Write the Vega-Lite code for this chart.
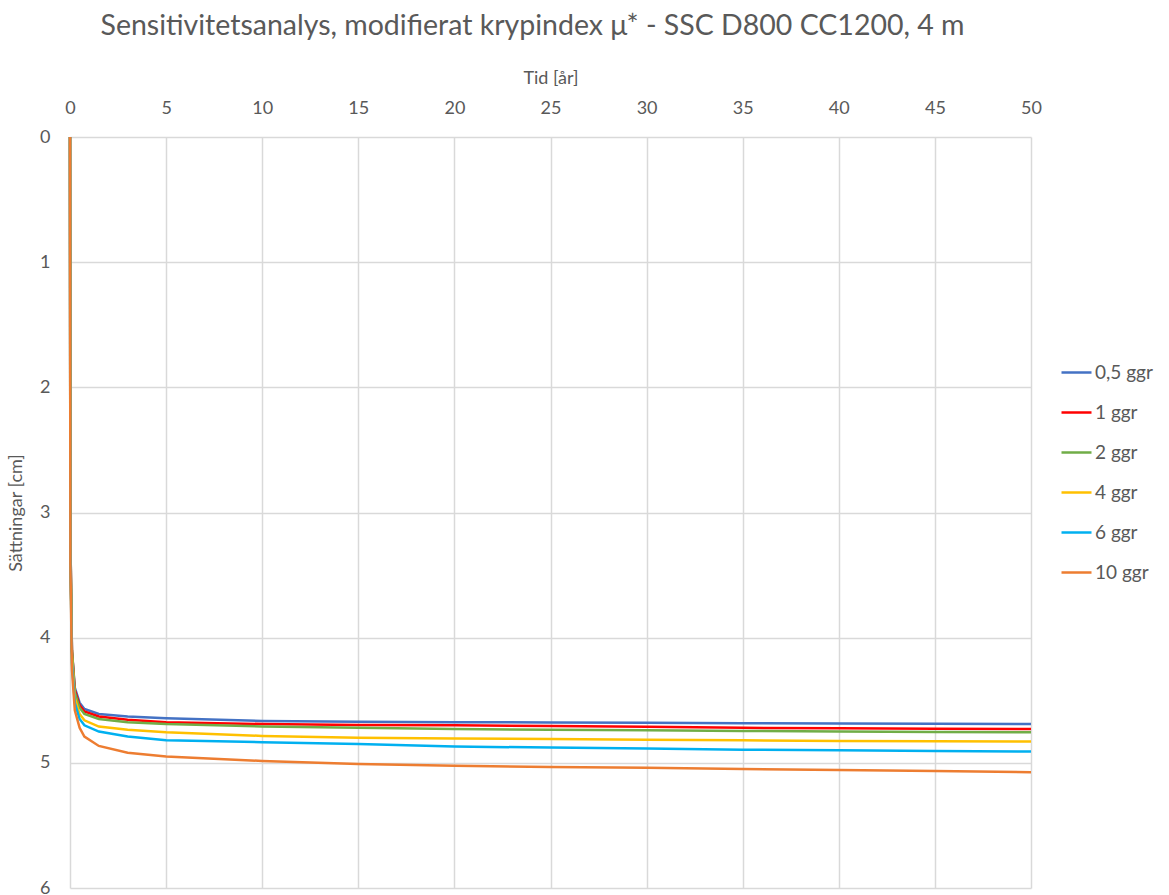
{
  "$schema": "https://vega.github.io/schema/vega-lite/v6.json",
  "autosize": {"type": "none"},
  "width": 961,
  "height": 751,
  "padding": {"left": 70, "top": 137, "right": 138, "bottom": 7},
  "background": "white",
  "config": {
    "font": "Lato",
    "view": {"stroke": null},
    "title": {"font": "Lato", "fontSize": 28.5, "fontWeight": "normal", "color": "#595959"}
  },
  "title": {
    "text": "Sensitivitetsanalys, modifierat krypindex μ* - SSC D800 CC1200, 4 m",
    "anchor": "middle",
    "frame": "group",
    "offset": 29,
    "dx": -18
  },
  "data": {
    "values": [
      {"t": 0, "0,5 ggr": 0, "1 ggr": 0, "2 ggr": 0, "4 ggr": 0, "6 ggr": 0, "10 ggr": 0},
      {"t": 0.02, "0,5 ggr": 3.2, "1 ggr": 3.2, "2 ggr": 3.2, "4 ggr": 3.3, "6 ggr": 3.3, "10 ggr": 3.4},
      {"t": 0.1, "0,5 ggr": 4.1, "1 ggr": 4.1, "2 ggr": 4.1, "4 ggr": 4.15, "6 ggr": 4.2, "10 ggr": 4.25},
      {"t": 0.25, "0,5 ggr": 4.4, "1 ggr": 4.42, "2 ggr": 4.44, "4 ggr": 4.48, "6 ggr": 4.52, "10 ggr": 4.58},
      {"t": 0.5, "0,5 ggr": 4.52, "1 ggr": 4.54, "2 ggr": 4.56, "4 ggr": 4.61, "6 ggr": 4.65, "10 ggr": 4.72},
      {"t": 0.75, "0,5 ggr": 4.57, "1 ggr": 4.59, "2 ggr": 4.61, "4 ggr": 4.66, "6 ggr": 4.7, "10 ggr": 4.79},
      {"t": 1.5, "0,5 ggr": 4.61, "1 ggr": 4.63, "2 ggr": 4.65, "4 ggr": 4.71, "6 ggr": 4.75, "10 ggr": 4.865},
      {"t": 3, "0,5 ggr": 4.63, "1 ggr": 4.655, "2 ggr": 4.675, "4 ggr": 4.735, "6 ggr": 4.79, "10 ggr": 4.92},
      {"t": 5, "0,5 ggr": 4.643, "1 ggr": 4.675, "2 ggr": 4.69, "4 ggr": 4.755, "6 ggr": 4.82, "10 ggr": 4.95},
      {"t": 10, "0,5 ggr": 4.665, "1 ggr": 4.69, "2 ggr": 4.71, "4 ggr": 4.785, "6 ggr": 4.835, "10 ggr": 4.985},
      {"t": 15, "0,5 ggr": 4.672, "1 ggr": 4.697, "2 ggr": 4.72, "4 ggr": 4.8, "6 ggr": 4.85, "10 ggr": 5.01},
      {"t": 20, "0,5 ggr": 4.675, "1 ggr": 4.7, "2 ggr": 4.73, "4 ggr": 4.805, "6 ggr": 4.87, "10 ggr": 5.024},
      {"t": 25, "0,5 ggr": 4.678, "1 ggr": 4.706, "2 ggr": 4.735, "4 ggr": 4.81, "6 ggr": 4.878, "10 ggr": 5.033},
      {"t": 30, "0,5 ggr": 4.68, "1 ggr": 4.712, "2 ggr": 4.74, "4 ggr": 4.815, "6 ggr": 4.885, "10 ggr": 5.04},
      {"t": 35, "0,5 ggr": 4.683, "1 ggr": 4.72, "2 ggr": 4.745, "4 ggr": 4.82, "6 ggr": 4.895, "10 ggr": 5.05},
      {"t": 40, "0,5 ggr": 4.686, "1 ggr": 4.724, "2 ggr": 4.75, "4 ggr": 4.825, "6 ggr": 4.9, "10 ggr": 5.058},
      {"t": 45, "0,5 ggr": 4.688, "1 ggr": 4.727, "2 ggr": 4.753, "4 ggr": 4.828, "6 ggr": 4.905, "10 ggr": 5.066},
      {"t": 50, "0,5 ggr": 4.69, "1 ggr": 4.73, "2 ggr": 4.755, "4 ggr": 4.83, "6 ggr": 4.91, "10 ggr": 5.075}
    ]
  },
  "transform": [
    {"fold": ["0,5 ggr", "1 ggr", "2 ggr", "4 ggr", "6 ggr", "10 ggr"], "as": ["serie", "s"]}
  ],
  "mark": {"type": "line", "strokeWidth": 2.5, "interpolate": "linear"},
  "encoding": {
    "x": {
      "field": "t",
      "type": "quantitative",
      "scale": {"domain": [0, 50], "nice": false, "zero": true},
      "axis": {
        "orient": "top",
        "title": "Tid [år]",
        "values": [0, 5, 10, 15, 20, 25, 30, 35, 40, 45, 50],
        "ticks": false,
        "domain": false,
        "grid": true,
        "gridColor": "#d9d9d9",
        "gridWidth": 1.5,
        "labelFlush": false,
        "labelFont": "Lato",
        "labelFontSize": 18,
        "labelColor": "#595959",
        "labelPadding": 20,
        "titleFont": "Lato",
        "titleFontSize": 18,
        "titleFontWeight": "normal",
        "titleColor": "#595959",
        "titlePadding": 12
      }
    },
    "y": {
      "field": "s",
      "type": "quantitative",
      "scale": {"domain": [0, 6], "reverse": true, "nice": false},
      "axis": {
        "title": "Sättningar [cm]",
        "values": [0, 1, 2, 3, 4, 5, 6],
        "ticks": false,
        "domain": false,
        "grid": true,
        "gridColor": "#d9d9d9",
        "gridWidth": 1.5,
        "labelFlush": false,
        "labelFont": "Lato",
        "labelFontSize": 18,
        "labelColor": "#595959",
        "labelPadding": 20,
        "titleFont": "Lato",
        "titleFontSize": 18,
        "titleFontWeight": "normal",
        "titleColor": "#595959",
        "titlePadding": 14
      }
    },
    "color": {
      "field": "serie",
      "type": "nominal",
      "sort": ["0,5 ggr", "1 ggr", "2 ggr", "4 ggr", "6 ggr", "10 ggr"],
      "scale": {
        "domain": ["0,5 ggr", "1 ggr", "2 ggr", "4 ggr", "6 ggr", "10 ggr"],
        "range": ["#4472C4", "#FF0000", "#70AD47", "#FFC000", "#00B0F0", "#ED7D31"]
      },
      "legend": {
        "orient": "none",
        "legendX": 990,
        "legendY": 219,
        "title": null,
        "symbolType": "stroke",
        "symbolSize": 900,
        "symbolStrokeWidth": 2.5,
        "labelFont": "Lato",
        "labelFontSize": 19,
        "labelColor": "#595959",
        "labelOffset": 2,
        "rowPadding": 13
      }
    },
    "order": {"field": "t", "type": "quantitative"}
  }
}
